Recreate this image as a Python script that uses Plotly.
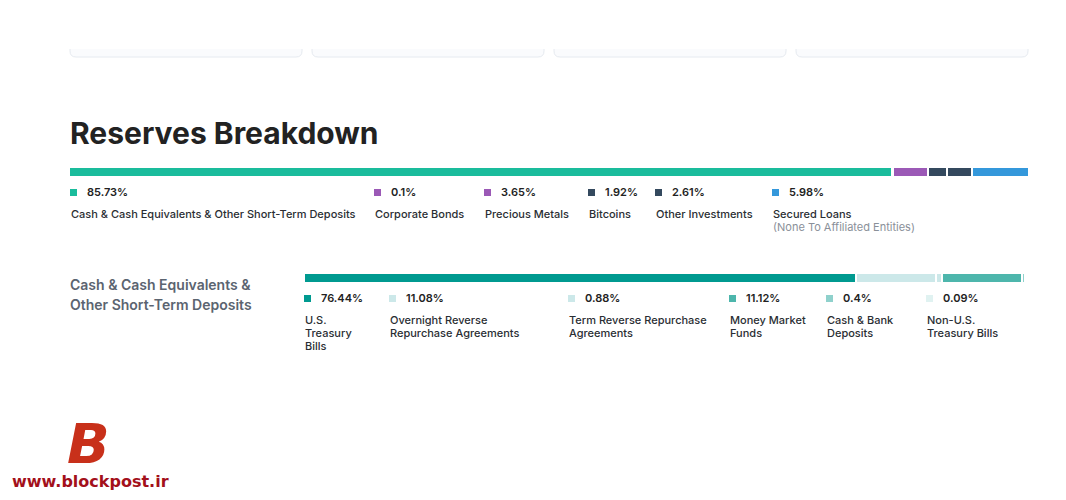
import plotly.graph_objects as go

W, H = 1066, 500

# ---------------- data ----------------
reserve_labels = ["Cash & Cash Equivalents & Other Short-Term Deposits", "Corporate Bonds",
                  "Precious Metals", "Bitcoins", "Other Investments", "Secured Loans"]
reserve_notes = ["", "", "", "", "", "(None To Affiliated Entities)"]
reserve_values = [85.73, 0.1, 3.65, 1.92, 2.61, 5.98]
reserve_colors = ["#1abc9c", "#9b59b6", "#9b59b6", "#34495e", "#34495e", "#3498db"]

cash_labels = ["U.S.\nTreasury\nBills", "Overnight Reverse\nRepurchase Agreements",
               "Term Reverse Repurchase\nAgreements", "Money Market\nFunds",
               "Cash & Bank\nDeposits", "Non-U.S.\nTreasury Bills"]
cash_values = [76.44, 11.08, 0.88, 11.12, 0.4, 0.09]
cash_colors = ["#009a90", "#cce8e9", "#cce8e9", "#4db6ac", "#8fd1cc", "#e0f2f1"]

# ---------------- layout positions (pixels) ----------------
row1_x = [70, 374, 484, 588, 655, 772]
row2_x = [304, 389, 568, 729, 826, 926]

def px(x):
    return x / W

def py(y):
    return 1 - y / H

FONT = "Inter"
fig = go.Figure()

for lab, v, c in zip(reserve_labels, reserve_values, reserve_colors):
    fig.add_trace(go.Bar(x=[v], y=[0], orientation="h", width=1, name=lab,
                         marker=dict(color=c, line=dict(color="white", width=2)),
                         xaxis="x", yaxis="y", hoverinfo="skip", showlegend=False))
for lab, v, c in zip(cash_labels, cash_values, cash_colors):
    fig.add_trace(go.Bar(x=[v], y=[0], orientation="h", width=1, name=lab,
                         marker=dict(color=c, line=dict(color="white", width=2)),
                         xaxis="x2", yaxis="y2", hoverinfo="skip", showlegend=False))

ax = dict(visible=False, fixedrange=True, showgrid=False, zeroline=False)
fig.update_layout(
    width=W, height=H, margin=dict(l=0, r=0, t=0, b=0),
    paper_bgcolor="white", plot_bgcolor="rgba(0,0,0,0)",
    barmode="stack",
    xaxis=dict(ax, domain=[px(69), px(1029)], range=[0, sum(reserve_values)]),
    yaxis=dict(ax, domain=[py(177), py(167)], range=[-0.5, 0.5]),
    xaxis2=dict(ax, domain=[px(304), px(1026)], range=[0, sum(cash_values)]),
    yaxis2=dict(ax, domain=[py(283), py(273)], range=[-0.5, 0.5]),
)

shapes = []
annotations = []

def text(x, y, s, size, color, weight=400, family=FONT, anchor="left"):
    annotations.append(dict(x=px(x), y=py(y), xref="paper", yref="paper", text=s,
                            showarrow=False, xanchor=anchor, yanchor="middle",
                            font=dict(family=family, size=size, color=color, weight=weight)))

# top cards (only the bottom shadow edge is visible)
for x0 in [70, 312, 554, 796]:
    x1 = x0 + 232
    r = 6
    yt = 49
    yb = 57
    path = (f"M {px(x0)},{py(yt)} L {px(x0)},{py(yb - r)} "
            f"Q {px(x0)},{py(yb)} {px(x0 + r)},{py(yb)} "
            f"L {px(x1 - r)},{py(yb)} Q {px(x1)},{py(yb)} {px(x1)},{py(yb - r)} "
            f"L {px(x1)},{py(yt)}")
    shapes.append(dict(type="path", path=path + " Z", xref="paper", yref="paper",
                       fillcolor="#fafbfd", line=dict(width=0)))
    shapes.append(dict(type="path", path=path, xref="paper", yref="paper",
                       line=dict(color="#e6eaf0", width=1)))

# title
text(68, 133, "Reserves Breakdown", 30, "#222222", 700)

# row 1 legend
for x, lab, note, v, c in zip(row1_x, reserve_labels, reserve_notes, reserve_values, reserve_colors):
    shapes.append(dict(type="rect", xref="paper", yref="paper", x0=px(x), x1=px(x + 7),
                       y0=py(196), y1=py(189), fillcolor=c, line=dict(width=0)))
    text(x + 15, 192, f"{v:g}%", 11, "#222222", 600)
    text(x - 1, 214, lab, 11, "#2a2e33", 450)
    if note:
        text(x - 1, 227, note, 11, "#8a9099", 400)

# section heading
text(68, 284, "Cash & Cash Equivalents &", 14, "#5b6470", 600)
text(68, 304, "Other Short-Term Deposits", 14, "#5b6470", 600)

# row 2 legend
for x, lab, v, c in zip(row2_x, cash_labels, cash_values, cash_colors):
    shapes.append(dict(type="rect", xref="paper", yref="paper", x0=px(x), x1=px(x + 7),
                       y0=py(302), y1=py(295), fillcolor=c, line=dict(width=0)))
    text(x + 15, 298, f"{v:g}%", 11, "#222222", 600)
    for i, line in enumerate(lab.split("\n")):
        text(x - 1, 320 + 13 * i, line, 11, "#2a2e33", 450)

# watermark logo
text(65, 443, "<i>B</i>", 56, "#c8301a", 900, family="DejaVu Sans")
text(10, 481, "www.blockpost.ir", 16, "#a3101b", 700, family="DejaVu Sans")

fig.update_layout(shapes=shapes, annotations=annotations)
fig.write_html("out.html", config={"displayModeBar": False})
